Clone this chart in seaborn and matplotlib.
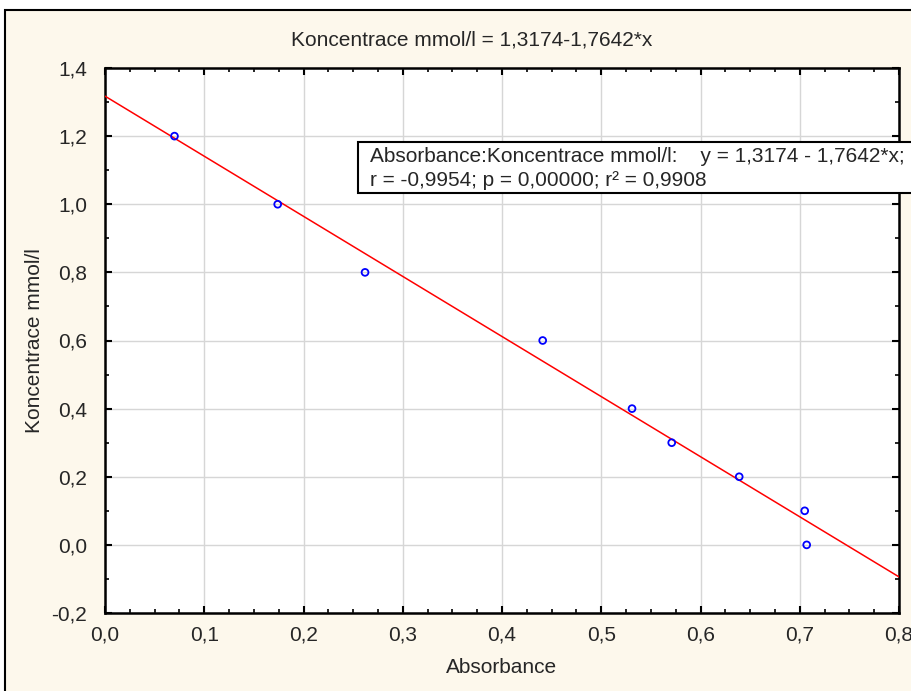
import numpy as np
import pandas as pd
import matplotlib
matplotlib.use("Agg")
import matplotlib.pyplot as plt
import seaborn as sns
from matplotlib.patches import Rectangle
from matplotlib.ticker import MultipleLocator, FuncFormatter

absorbance = [0.070, 0.174, 0.262, 0.441, 0.531, 0.571, 0.639, 0.705, 0.707]
koncentrace = [1.20, 1.00, 0.80, 0.60, 0.40, 0.30, 0.20, 0.10, 0.00]

# fit coefficients as printed in the chart
intercept = 1.3174
slope = -1.7642
x_range = [0.0, 0.8]

title = "Koncentrace mmol/l = 1,3174-1,7642*x"
legend_lines = ["Absorbance:Koncentrace mmol/l:    y = 1,3174 - 1,7642*x;",
                "r = -0,9954; p = 0,00000; r\u00b2 = 0,9908"]

pts = pd.DataFrame({"Absorbance": absorbance, "Koncentrace mmol/l": koncentrace})
fit = pd.DataFrame({"Absorbance": x_range,
                    "Koncentrace mmol/l": [intercept + slope * x for x in x_range]})

sns.set_style("white")
plt.rcParams["font.family"] = ["Liberation Sans", "DejaVu Sans"]
FS = 15

W, H = 911, 691
fig = plt.figure(figsize=(W / 100, H / 100), dpi=100)
fig.patch.set_facecolor("white")

# outer frame, cropped at right/bottom like the screenshot
fig.patches.append(Rectangle((5 / W, -0.05), 1.1, (H - 10) / H + 0.05,
                             transform=fig.transFigure, facecolor="#fdf8ec",
                             edgecolor="black", linewidth=1.5, zorder=-10))

ax = fig.add_axes([105 / W, (H - 613) / H, 794 / W, 545 / H])
ax.set_facecolor("white")

sns.lineplot(data=fit, x="Absorbance", y="Koncentrace mmol/l", ax=ax,
             color="red", linewidth=1.1, zorder=3)
sns.scatterplot(data=pts, x="Absorbance", y="Koncentrace mmol/l", ax=ax,
                marker="o", s=24, facecolor="none", edgecolor="blue",
                linewidth=1.3, zorder=4)

ax.set_xlim(0, 0.8)
ax.set_ylim(-0.2, 1.4)
ax.xaxis.set_major_locator(MultipleLocator(0.1))
ax.yaxis.set_major_locator(MultipleLocator(0.2))
ax.xaxis.set_minor_locator(MultipleLocator(0.025))
ax.yaxis.set_minor_locator(MultipleLocator(0.1))
comma = FuncFormatter(lambda v, p: f"{v:.1f}".replace(".", ",").replace("-0,0", "0,0"))
ax.xaxis.set_major_formatter(comma)
ax.yaxis.set_major_formatter(comma)
ax.grid(True, which="major", color="#d6d6d6", linewidth=1)
ax.tick_params(which="both", direction="in", top=True, right=True,
               bottom=True, left=True, color="black")
ax.tick_params(which="major", length=5, width=1.5, labelsize=FS)
ax.tick_params(which="minor", length=3, width=1.2)
ax.tick_params(axis="x", which="major", pad=9)
ax.tick_params(axis="y", which="major", pad=13)
for s in ax.spines.values():
    s.set_color("black")
    s.set_linewidth(1.8)

ax.set_xlabel("Absorbance", fontsize=FS)
ax.set_ylabel("Koncentrace mmol/l", fontsize=FS)
ax.xaxis.set_label_coords(0.5, (613 - 658) / 545)
ax.yaxis.set_label_coords((44 - 105) / 794, 0.5)
fig.text(472 / W, (H - 40) / H, title, ha="center", va="center", fontsize=FS)

# regression info box, also cut at the right edge
fig.patches.append(Rectangle((358 / W, (H - 193) / H), 0.7, 51 / H,
                             transform=fig.transFigure, facecolor="white",
                             edgecolor="black", linewidth=1.5, zorder=5))
fig.text(370 / W, (H - 156) / H, legend_lines[0], ha="left", va="center",
         fontsize=FS, zorder=6)
fig.text(370 / W, (H - 181) / H, legend_lines[1], ha="left", va="center",
         fontsize=FS, zorder=6)

fig.savefig("out.png", dpi=100)
